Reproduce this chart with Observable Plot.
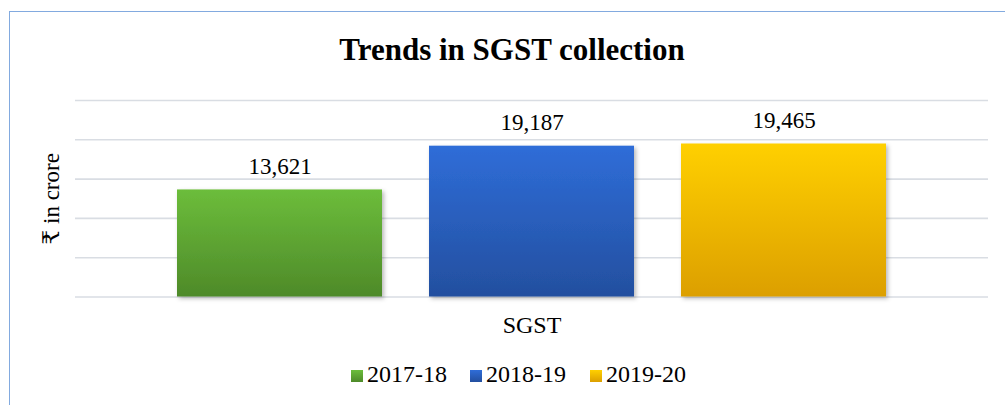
<!DOCTYPE html>
<html>
<head>
<meta charset="utf-8">
<script src="https://cdn.jsdelivr.net/npm/d3@7"></script>
<script src="https://cdn.jsdelivr.net/npm/@observablehq/plot@0.6"></script>
<style>
  html, body { margin: 0; padding: 0; background: #fff; overflow: hidden; }
  #wrap { position: relative; width: 1005px; height: 405px; overflow: hidden; background: #fff;
          font-family: 'Liberation Serif', 'Times New Roman', serif; color: #000; }
  #border { position: absolute; left: 9px; top: 11px; width: 1200px; height: 600px;
            border: 1.5px solid #82aadf; box-sizing: border-box; pointer-events: none; }
  #title { position: absolute; left: 0; width: 1024px; top: 32px; text-align: center;
           font-weight: bold; font-size: 31px; line-height: normal; white-space: nowrap; }
  .leg { position: absolute; top: 361px; font-size: 24px; line-height: normal; white-space: nowrap; }
  .sw { position: absolute; width: 12px; height: 12px; top: 370px; }
  #chart { position: absolute; left: 0; top: 0; }
</style>
</head>
<body>
<div id="wrap">
  <div id="chart"></div>
  <div id="border"></div>
  <div id="title"></div>
  <div id="legend"></div>
</div>
<script>
const title = "Trends in SGST collection";
const yLabel = "₹ in crore";
const categories = ["SGST"];
const years = ["2017-18", "2018-19", "2019-20"];
const values = [13621, 19187, 19465];
const yTicks = [0, 5000, 10000, 15000, 20000, 25000];

const gradients = [
  ["#6cbd3b", "#4e8a29"],
  ["#2f6dd8", "#234f9f"],
  ["#ffd000", "#dc9f00"]
];

const data = years.map((y, i) => ({cat: categories[0], year: y, value: values[i], grad: `url(#grad${i})`}));

const font = "'Liberation Serif', 'Times New Roman', serif";

const chart = Plot.plot({
  width: 1005,
  height: 405,
  marginLeft: 75,
  marginRight: 17,
  marginTop: 100,
  marginBottom: 108.5,
  style: {fontFamily: font, background: "transparent", color: "#000"},
  fx: {domain: categories, padding: 0, axis: null},
  x: {domain: years, paddingInner: 0.187, paddingOuter: 0.398, axis: null},
  y: {domain: [0, 25000], axis: null},
  color: {type: "identity"},
  marks: [
    Plot.gridY(yTicks, {stroke: "#d9dde3", strokeOpacity: 1, strokeWidth: 1.6}),
    Plot.barY(data, {fx: "cat", x: "year", y: "value", fill: "grad"}),
    Plot.text(data, {fx: "cat", x: "year", y: "value", text: d => d3.format(",")(d.value),
      lineAnchor: "bottom", dy: -16, fontSize: 23, fill: "#000"}),
    Plot.axisFx({anchor: "bottom", tickSize: 0, tickPadding: 19, label: null, fontSize: 24, fill: "#000"}),
    Plot.text([yLabel], {frameAnchor: "left", textAnchor: "middle", lineAnchor: "middle", dx: -24, rotate: -90, fontSize: 23, fill: "#000",
      fontFamily: "'Liberation Serif', 'DejaVu Serif', 'Noto Sans', serif"})
  ]
});

// gradients and shadow
const svg = d3.select(chart);
const defs = svg.insert("defs", ":first-child");
gradients.forEach((g, i) => {
  const lg = defs.append("linearGradient").attr("id", `grad${i}`)
    .attr("x1", 0).attr("y1", 0).attr("x2", 0).attr("y2", 1);
  lg.append("stop").attr("offset", "0%").attr("stop-color", g[0]);
  lg.append("stop").attr("offset", "100%").attr("stop-color", g[1]);
});
const f = defs.append("filter").attr("id", "shadow").attr("x", "-10%").attr("y", "-10%").attr("width", "130%").attr("height", "130%");
f.append("feDropShadow").attr("dx", 2).attr("dy", 2).attr("stdDeviation", 2)
  .attr("flood-color", "#000").attr("flood-opacity", 0.28);
svg.selectAll("g[aria-label='bar'] rect").attr("filter", "url(#shadow)");

document.getElementById("chart").appendChild(chart);
document.getElementById("title").textContent = title;

// legend
const legend = document.getElementById("legend");
const swLeft = [351, 470, 590];
years.forEach((y, i) => {
  const sw = document.createElement("div");
  sw.className = "sw";
  sw.style.left = swLeft[i] + "px";
  sw.style.background = `linear-gradient(${gradients[i][0]}, ${gradients[i][1]})`;
  legend.appendChild(sw);
  const t = document.createElement("div");
  t.className = "leg";
  t.style.left = (swLeft[i] + 16) + "px";
  t.textContent = y;
  legend.appendChild(t);
});
</script>
</body>
</html>
